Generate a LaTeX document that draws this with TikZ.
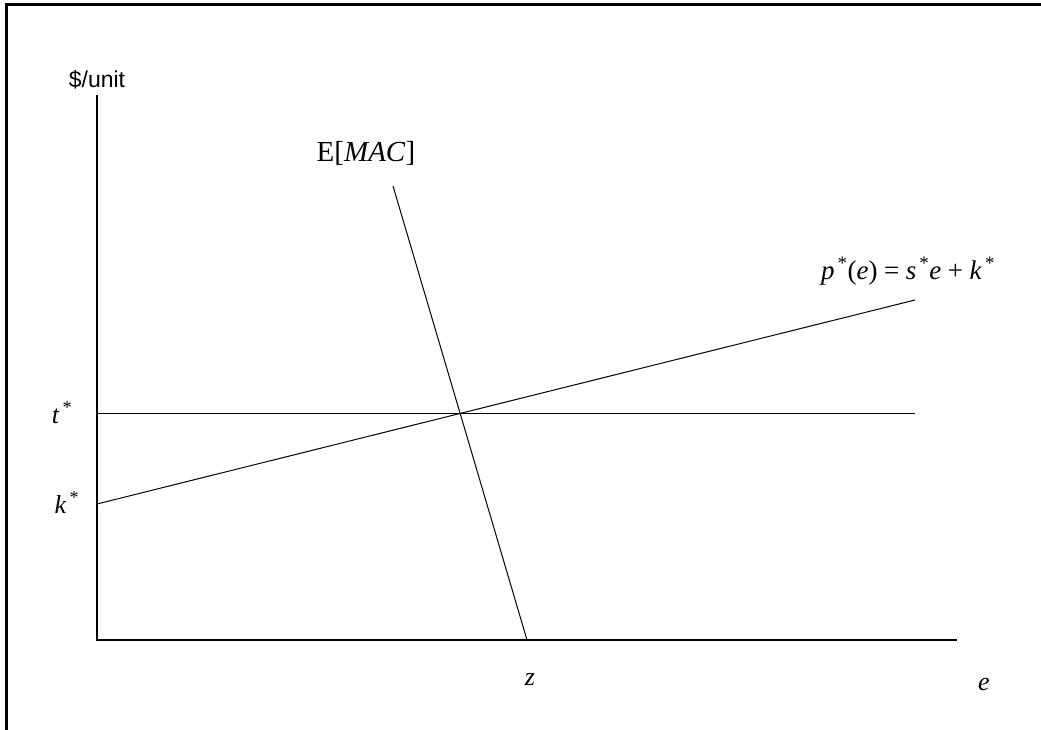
\documentclass[tikz,border=0pt]{standalone}
\usepackage{fontspec}
\setmainfont{Liberation Serif}
\newfontfamily\arialfont{Liberation Sans}
\newcommand{\ital}[1]{\textit{#1}}
\newcommand{\str}{\textsuperscript{\,*}}
\newcommand{\opsp}{\hspace{0.24em}}

\tikzset{
    axisline/.style={line width=2pt},
    thinline/.style={line width=1pt},
    lbl/.style={inner sep=0pt, anchor=base, font=\fontsize{26}{31}\selectfont}
}

\begin{document}
\begin{tikzpicture}[x=1pt, y=-1pt]
    \useasboundingbox (0,0) rectangle (1041,730);

    % frame
    \draw[line width=2.2pt] (6.5,730) -- (6.5,4.5) -- (1041,4.5);

    % axes
    \coordinate (origin) at (97,640);
    \coordinate (ytop) at (97,95);
    \coordinate (xend) at (957,640);
    \draw[axisline] (ytop) -- (origin) -- (xend);

    % tax line, price line, MAC
    \coordinate (tleft) at (97,413);
    \coordinate (tright) at (915,413);
    \coordinate (pleft) at (97,504);
    \coordinate (pright) at (915,300);
    \coordinate (mactop) at (393,186);
    \coordinate (macbot) at (527,640);
    \draw[thinline] (tleft) -- (tright);
    \draw[thinline] (pleft) -- (pright);
    \draw[thinline] (mactop) -- (macbot);

    % labels
    \node[lbl, font=\arialfont\fontsize{23}{27}\selectfont] (yunit) at (97,88) {\$/unit};
    \node[lbl, font=\fontsize{29}{34}\selectfont] (maclbl) at (366,162) {E[\ital{MAC}]};
    \node[lbl] (tlbl) at (62,423) {\ital{t}\str};
    \node[lbl] (klbl) at (67,513) {\ital{k}\str};
    \node[lbl, font=\fontsize{27}{32}\selectfont] (plbl) at (908,279) {\ital{p}\str(\ital{e})\opsp=\opsp\ital{s}\str\ital{e}\opsp+\opsp\ital{k}\str};
    \node[lbl] (elbl) at (984,690) {\ital{e}};
    \node[lbl] (zlbl) at (530,685) {\ital{z}};

\end{tikzpicture}
\end{document}
